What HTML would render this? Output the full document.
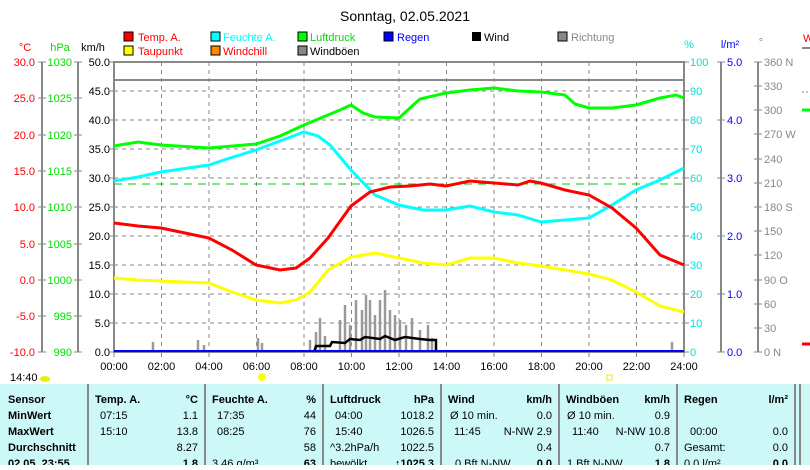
<!DOCTYPE html>
<html><head><meta charset="utf-8"><style>
body{margin:0;width:810px;height:465px;overflow:hidden;background:#fff;font-family:"Liberation Sans",sans-serif}
</style></head><body>
<svg width="810" height="465" xmlns="http://www.w3.org/2000/svg" font-family="Liberation Sans, sans-serif" font-size="11">
<text x="405" y="21" font-size="14" text-anchor="middle">Sonntag, 02.05.2021</text>
<g font-size="11">
<rect x="124" y="32" width="9" height="9" fill="#f00" stroke="#000"/><text x="138" y="41" fill="#f00">Temp. A.</text>
<rect x="124" y="46" width="9" height="9" fill="#ff0" stroke="#000"/><text x="138" y="55" fill="#f00">Taupunkt</text>
<rect x="211" y="32" width="9" height="9" fill="#0ff" stroke="#000"/><text x="223" y="41" fill="#0ff">Feuchte A.</text>
<rect x="211" y="46" width="9" height="9" fill="#f80" stroke="#000"/><text x="223" y="55" fill="#f00">Windchill</text>
<rect x="298" y="32" width="9" height="9" fill="#0f0" stroke="#000"/><text x="310" y="41" fill="#0d0">Luftdruck</text>
<rect x="298" y="46" width="9" height="9" fill="#888" stroke="#000"/><text x="310" y="55">Windböen</text>
<rect x="384" y="32" width="9" height="9" fill="#00f" stroke="#000"/><text x="397" y="41" fill="#00f">Regen</text>
<rect x="472" y="32" width="9" height="9" fill="#000"/><text x="484" y="41">Wind</text>
<rect x="558" y="32" width="9" height="9" fill="#888" stroke="#000"/><text x="571" y="41" fill="#888">Richtung</text>
</g>
<text x="25" y="51" fill="#f00" text-anchor="middle">°C</text>
<text x="60" y="51" fill="#0d0" text-anchor="middle">hPa</text>
<text x="93" y="51" text-anchor="middle">km/h</text>
<text x="689" y="48" fill="#0dd" text-anchor="middle">%</text>
<text x="730" y="48" fill="#00f" text-anchor="middle">l/m²</text>
<text x="761" y="46" fill="#888" text-anchor="middle">°</text>
<!-- right-edge fragments -->
<text x="803" y="42" fill="#f00" font-size="11">W</text>
<line x1="802" y1="48" x2="810" y2="48" stroke="#888" stroke-width="2"/>
<line x1="802" y1="92" x2="810" y2="92" stroke="#888" stroke-dasharray="2,2"/>
<line x1="802" y1="110" x2="810" y2="110" stroke="#0f0" stroke-width="3"/>
<line x1="802" y1="344" x2="810" y2="344" stroke="#f00" stroke-width="3"/>
<g stroke="#888" stroke-dasharray="4,4" stroke-width="1">
<line x1="114" x2="684" y1="91" y2="91"/><line x1="114" x2="684" y1="120" y2="120"/><line x1="114" x2="684" y1="149" y2="149"/><line x1="114" x2="684" y1="178" y2="178"/><line x1="114" x2="684" y1="207" y2="207"/><line x1="114" x2="684" y1="236" y2="236"/><line x1="114" x2="684" y1="265" y2="265"/><line x1="114" x2="684" y1="294" y2="294"/><line x1="114" x2="684" y1="323" y2="323"/>
<line y1="62" y2="352" x1="161.5" x2="161.5"/><line y1="62" y2="352" x1="209" x2="209"/><line y1="62" y2="352" x1="256.5" x2="256.5"/><line y1="62" y2="352" x1="304" x2="304"/><line y1="62" y2="352" x1="351.5" x2="351.5"/><line y1="62" y2="352" x1="399" x2="399"/><line y1="62" y2="352" x1="446.5" x2="446.5"/><line y1="62" y2="352" x1="494" x2="494"/><line y1="62" y2="352" x1="541.5" x2="541.5"/><line y1="62" y2="352" x1="589" x2="589"/><line y1="62" y2="352" x1="636.5" x2="636.5"/>
</g>
<line x1="114" x2="684" y1="80" y2="80" stroke="#888" stroke-width="2"/>
<line x1="114" x2="684" y1="184" y2="184" stroke="#0c0" stroke-dasharray="8,6"/>
<g stroke="#888" stroke-width="2" fill="none">
<rect x="114" y="62" width="570" height="290"/>
<line x1="42" y1="62" x2="42" y2="352"/><line x1="78" y1="62" x2="78" y2="352"/>
<line x1="721" y1="62" x2="721" y2="352"/><line x1="758" y1="62" x2="758" y2="352"/>
</g>
<g stroke="#888" stroke-width="1">
<path d="M38 62H46M38 98H46M38 135H46M38 171H46M38 207H46M38 244H46M38 280H46M38 316H46M38 352H46"/>
<path d="M74 62H82M74 98H82M74 135H82M74 171H82M74 207H82M74 244H82M74 280H82M74 316H82M74 352H82"/>
<path d="M110 62H114M110 91H114M110 120H114M110 149H114M110 178H114M110 207H114M110 236H114M110 265H114M110 294H114M110 323H114M110 352H114"/>
<path d="M684 62H689M684 91H689M684 120H689M684 149H689M684 178H689M684 207H689M684 236H689M684 265H689M684 294H689M684 323H689M684 352H689"/>
<path d="M717 62H725M717 120H725M717 178H725M717 236H725M717 294H725M717 352H725"/>
<path d="M754 62H762M754 86H762M754 110H762M754 134H762M754 159H762M754 183H762M754 207H762M754 231H762M754 255H762M754 280H762M754 304H762M754 328H762M754 352H762"/>
<path d="M114 352V357M161.5 352V357M209 352V357M256.5 352V357M304 352V357M351.5 352V357M399 352V357M446.5 352V357M494 352V357M541.5 352V357M589 352V357M636.5 352V357M684 352V357"/>
</g>
<g font-size="11" text-anchor="end">
<g fill="#f00"><text x="35" y="66">30.0</text><text x="35" y="102">25.0</text><text x="35" y="139">20.0</text><text x="35" y="175">15.0</text><text x="35" y="211">10.0</text><text x="35" y="248">5.0</text><text x="35" y="284">0.0</text><text x="35" y="320">-5.0</text><text x="35" y="356">-10.0</text></g>
<g fill="#0d0"><text x="72" y="66">1030</text><text x="72" y="102">1025</text><text x="72" y="139">1020</text><text x="72" y="175">1015</text><text x="72" y="211">1010</text><text x="72" y="248">1005</text><text x="72" y="284">1000</text><text x="72" y="320">995</text><text x="72" y="356">990</text></g>
<g><text x="110" y="66">50.0</text><text x="110" y="95">45.0</text><text x="110" y="124">40.0</text><text x="110" y="153">35.0</text><text x="110" y="182">30.0</text><text x="110" y="211">25.0</text><text x="110" y="240">20.0</text><text x="110" y="269">15.0</text><text x="110" y="298">10.0</text><text x="110" y="327">5.0</text><text x="110" y="356">0.0</text></g>
</g>
<g font-size="11" fill="#0dd"><text x="690" y="66">100</text><text x="690" y="95">90</text><text x="690" y="124">80</text><text x="690" y="153">70</text><text x="690" y="182">60</text><text x="690" y="211">50</text><text x="690" y="240">40</text><text x="690" y="269">30</text><text x="690" y="298">20</text><text x="690" y="327">10</text><text x="690" y="356">0</text></g>
<g font-size="11" fill="#00f"><text x="727" y="66">5.0</text><text x="727" y="124">4.0</text><text x="727" y="182">3.0</text><text x="727" y="240">2.0</text><text x="727" y="298">1.0</text><text x="727" y="356">0.0</text></g>
<g font-size="11" fill="#888"><text x="764" y="66">360 N</text><text x="764" y="90">330</text><text x="764" y="114">300</text><text x="764" y="138">270 W</text><text x="764" y="163">240</text><text x="764" y="187">210</text><text x="764" y="211">180 S</text><text x="764" y="235">150</text><text x="764" y="259">120</text><text x="764" y="284">90  O</text><text x="764" y="308">60</text><text x="764" y="332">30</text><text x="764" y="356">0    N</text></g>
<g font-size="11" text-anchor="middle"><text x="114" y="370">00:00</text><text x="161.5" y="370">02:00</text><text x="209" y="370">04:00</text><text x="256.5" y="370">06:00</text><text x="304" y="370">08:00</text><text x="351.5" y="370">10:00</text><text x="399" y="370">12:00</text><text x="446.5" y="370">14:00</text><text x="494" y="370">16:00</text><text x="541.5" y="370">18:00</text><text x="589" y="370">20:00</text><text x="636.5" y="370">22:00</text><text x="684" y="370">24:00</text></g>
<text x="10" y="381" font-size="11">14:40</text>
<ellipse cx="45" cy="379" rx="5" ry="3" fill="#ee0"/>
<circle cx="262" cy="377" r="4" fill="#ff0"/><rect x="607" y="375" width="5" height="5" fill="none" stroke="#ee0"/>
<path d="M153 352V342M198 352V340M204 352V345M258 352V338M262 352V343M310 352V340M316 352V332M320 352V318M325 352V336M340 352V320M345 352V305M350 352V325M356 352V300M362 352V310M366 352V295M370 352V300M375 352V315M380 352V300M385 352V290M390 352V310M395 352V315M400 352V320M406 352V325M412 352V318M420 352V330M428 352V325M432 352V338M672 352V342" stroke="#999" stroke-width="2.5"/>
<polyline fill="none" stroke="#000" stroke-width="2.5" points="314,352 316,346 330,346 332,342 345,343 350,339 360,340 365,337 380,339 385,336 395,340 405,337 420,339 430,340 436,340 436,352"/>
<line x1="114" y1="351" x2="684" y2="351" stroke="#00f" stroke-width="2"/>
<polyline fill="none" stroke="#0f0" stroke-width="3" points="114,146 138,142 161,145 209,148 256,144 280,136 304,125 328,115 340,110 351,105 363,113 375,117 399,118 410,108 420,99 446,93 470,90 494,88 518,91 541,92 565,95 575,104 589,108 612,108 636,105 660,98 676,95 684,98"/>
<polyline fill="none" stroke="#0ff" stroke-width="3" points="114,181 138,177 161,172 209,165 230,158 256,150 280,141 304,132 318,136 330,145 351,170 375,195 399,205 423,210 446,210 470,206 494,212 518,215 541,222 565,220 589,218 612,205 636,190 660,180 684,168"/>
<polyline fill="none" stroke="#f00" stroke-width="3" points="114,223 138,226 161,228 185,233 209,238 232,250 256,265 280,270 296,268 310,258 328,238 351,206 370,192 390,187 410,186 430,184 446,186 470,181 494,183 518,185 530,181 541,183 565,190 589,195 612,208 636,228 660,255 684,265"/>
<polyline fill="none" stroke="#ff0" stroke-width="3" points="114,278 138,280 161,281 209,283 232,292 256,300 280,303 296,300 310,292 328,270 351,257 375,253 399,258 423,263 446,265 470,258 494,258 518,263 541,266 565,270 589,274 612,280 636,292 660,306 684,312"/>
<rect x="0" y="384" width="810" height="81" fill="#ccf8f8"/>
<g stroke="#888" stroke-width="2"><line x1="88" y1="384" x2="88" y2="465"/><line x1="205" y1="384" x2="205" y2="465"/><line x1="323" y1="384" x2="323" y2="465"/><line x1="441" y1="384" x2="441" y2="465"/><line x1="559" y1="384" x2="559" y2="465"/><line x1="677" y1="384" x2="677" y2="465"/><line x1="795" y1="384" x2="795" y2="465"/><line x1="800" y1="384" x2="800" y2="465"/></g>
<g font-size="11" font-weight="bold"><text x="8" y="403">Sensor</text><text x="8" y="419">MinWert</text><text x="8" y="435">MaxWert</text><text x="8" y="451">Durchschnitt</text><text x="8" y="467">02.05. 23:55</text>
<text x="95" y="403">Temp. A.</text><text x="212" y="403">Feuchte A.</text><text x="330" y="403">Luftdruck</text><text x="448" y="403">Wind</text><text x="566" y="403">Windböen</text><text x="684" y="403">Regen</text></g>
<g font-size="11" text-anchor="end" font-weight="bold"><text x="198" y="403">°C</text><text x="316" y="403">%</text><text x="434" y="403">hPa</text><text x="552" y="403">km/h</text><text x="670" y="403">km/h</text><text x="788" y="403">l/m²</text>
<text x="198" y="467">1.8</text><text x="316" y="467">63</text><text x="434" y="467">↑1025.3</text><text x="552" y="467">0.0</text><text x="670" y="467">1.8</text><text x="788" y="467">0.0</text></g>
<g font-size="11"><text x="100" y="419">07:15</text><text x="100" y="435">15:10</text><text x="217" y="419">17:35</text><text x="217" y="435">08:25</text><text x="212" y="467">3.46 g/m³</text>
<text x="335" y="419">04:00</text><text x="335" y="435">15:40</text><text x="330" y="451">^3.2hPa/h</text><text x="330" y="467">bewölkt</text>
<text x="450" y="419">Ø 10 min.</text><text x="454" y="435">11:45</text><text x="455" y="467">0 Bft N-NW</text>
<text x="567" y="419">Ø 10 min.</text><text x="572" y="435">11:40</text><text x="567" y="467">1 Bft N-NW</text>
<text x="690" y="435">00:00</text><text x="684" y="451">Gesamt:</text><text x="684" y="467">0.0 l/m²</text></g>
<g font-size="11" text-anchor="end"><text x="198" y="419">1.1</text><text x="198" y="435">13.8</text><text x="198" y="451">8.27</text>
<text x="316" y="419">44</text><text x="316" y="435">76</text><text x="316" y="451">58</text>
<text x="434" y="419">1018.2</text><text x="434" y="435">1026.5</text><text x="434" y="451">1022.5</text>
<text x="552" y="419">0.0</text><text x="552" y="435">N-NW 2.9</text><text x="552" y="451">0.4</text>
<text x="670" y="419">0.9</text><text x="670" y="435">N-NW 10.8</text><text x="670" y="451">0.7</text>
<text x="788" y="435">0.0</text><text x="788" y="451">0.0</text></g>
</svg>
</body></html>
